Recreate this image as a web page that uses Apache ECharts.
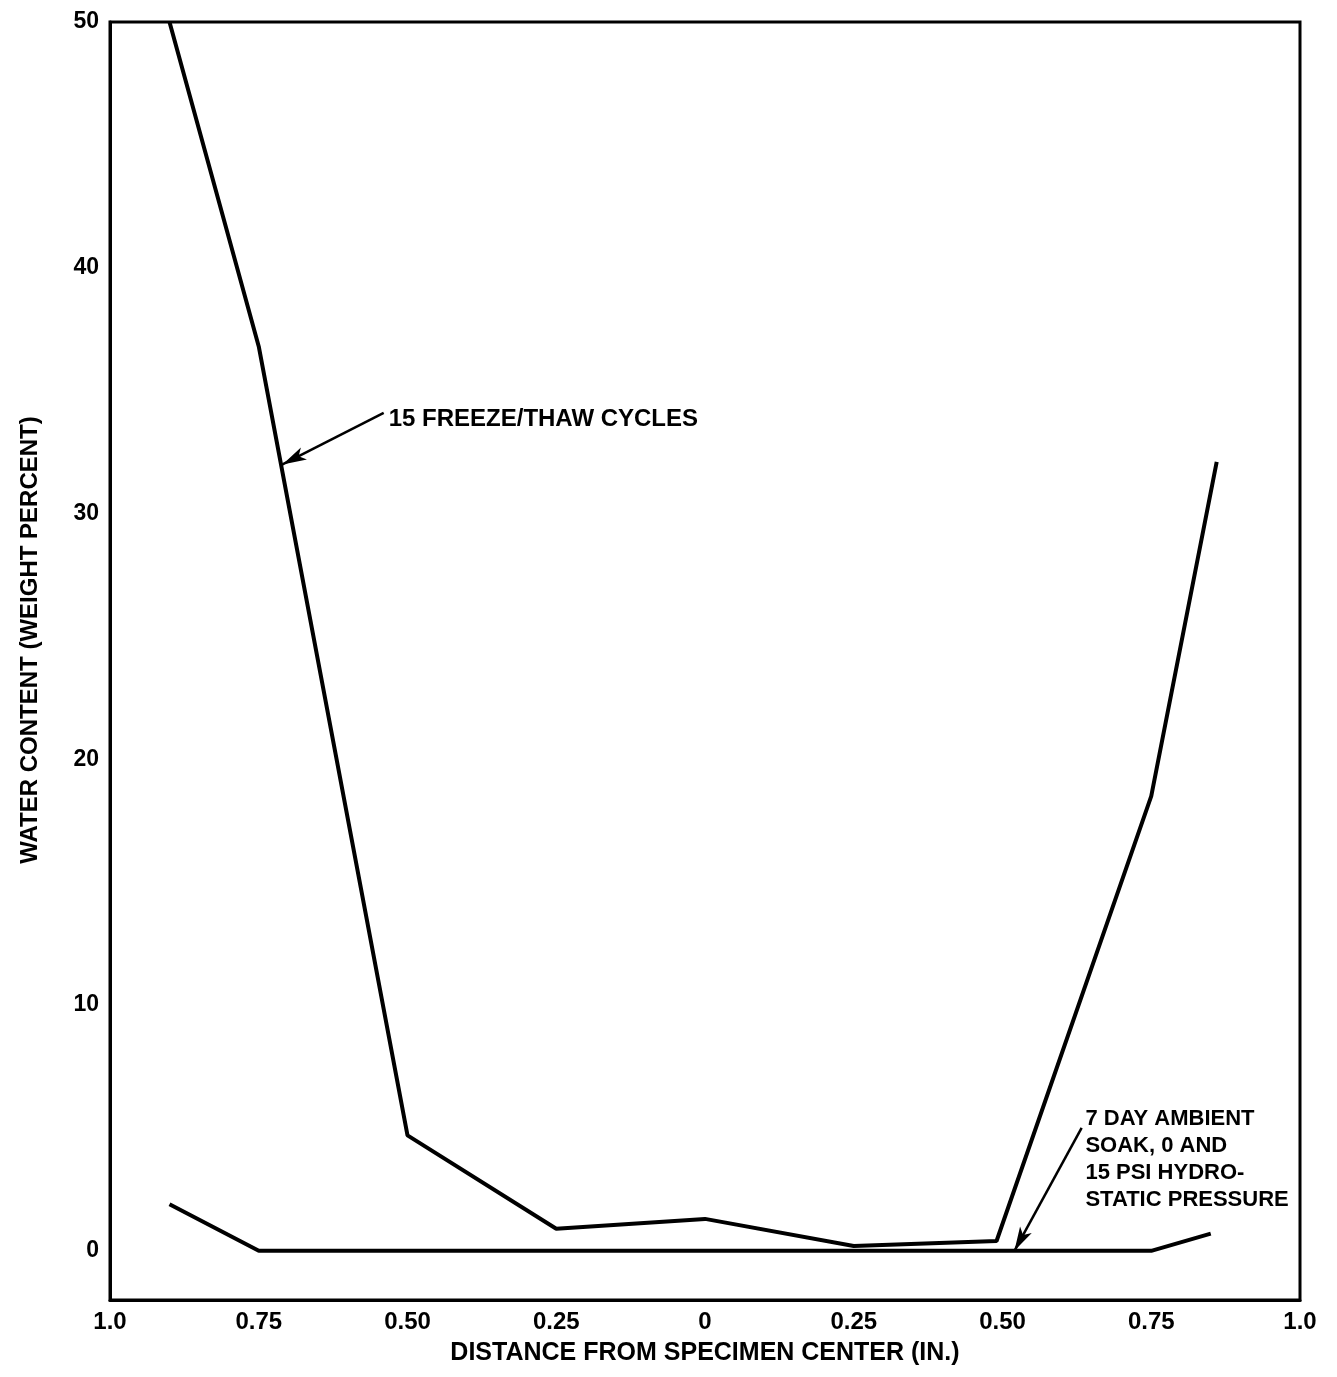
<!DOCTYPE html>
<html>
<head>
<meta charset="utf-8">
<script src="https://cdn.jsdelivr.net/npm/echarts@6/dist/echarts.min.js"></script>
<style>
  html, body { margin: 0; padding: 0; background: #fff; }
  #main { width: 1337px; height: 1377px; }
</style>
</head>
<body>
<div id="main"></div>
<script>
// distance from centre, left side negative (in.)
var xTickLabels = ['1.0', '0.75', '0.50', '0.25', '0', '0.25', '0.50', '0.75', '1.0'];
var yTicks = [0, 10, 20, 30, 40, 50];

// 15 freeze/thaw cycles
var freezeX = [-0.9, -0.75, -0.5, -0.25, 0, 0.25, 0.49, 0.75, 0.86];
var freezeY = [50, 36.8, 4.7, 0.9, 1.3, 0.2, 0.4, 18.5, 32.1];

// 7 day ambient soak
var soakX = [-0.9, -0.75, -0.5, -0.25, 0, 0.25, 0.5, 0.75, 0.85];
var soakY = [1.9, 0, 0, 0, 0, 0, 0, 0, 0.7];

// arrows [from, to] and labels
var freezeArrow = [[-0.54, 34.1], [-0.71, 32.0]];
var freezeTextAt = [-0.535, 33.85];
var freezeText = '15 FREEZE/THAW CYCLES';
var soakArrow = [[0.633, 5.0], [0.52, 0.0]];
var soakTextAt = [0.636, 5.93];
var soakText = '7 DAY AMBIENT\nSOAK, 0 AND\n15 PSI HYDRO-\nSTATIC PRESSURE';

function pairs(xs, ys) {
  return xs.map(function (x, i) { return [x, ys[i]]; });
}

var font = 'Liberation Sans';

var myChart = echarts.init(document.getElementById('main'));

option = {
  backgroundColor: '#ffffff',
  animation: false,
  grid: {
    left: 110,
    right: 37,
    top: 22,
    bottom: 77,
    show: true,
    borderColor: '#000',
    borderWidth: 3
  },
  xAxis: {
    type: 'value',
    min: -1,
    max: 1,
    interval: 0.25,
    name: 'DISTANCE FROM SPECIMEN CENTER (IN.)',
    nameLocation: 'middle',
    nameGap: 41,
    nameTextStyle: { fontFamily: font, fontWeight: 'bold', fontSize: 25, color: '#000' },
    axisLine: { onZero: false, lineStyle: { color: '#000', width: 3 } },
    axisTick: { show: false },
    splitLine: { show: false },
    axisLabel: {
      margin: 10,
      fontFamily: font, fontWeight: 'bold', fontSize: 24, color: '#000',
      formatter: function (v) {
        return xTickLabels[Math.round((v + 1) / 0.25)];
      }
    }
  },
  yAxis: {
    type: 'value',
    min: -2,
    max: 50,
    name: 'WATER CONTENT (WEIGHT PERCENT)',
    nameLocation: 'middle',
    nameGap: 68,
    nameTextStyle: {
      fontFamily: font, fontWeight: 'bold', fontSize: 24, color: '#000',
      padding: [0, 0, 0, 42]   // nudge up a little, the original sits above centre
    },
    axisLine: { onZero: false, lineStyle: { color: '#000', width: 3 } },
    axisTick: { show: false },
    splitLine: { show: false },
    axisLabel: {
      margin: 11,
      customValues: yTicks,
      fontFamily: font, fontWeight: 'bold', fontSize: 23, color: '#000'
    }
  },
  series: [
    {
      name: '15 FREEZE/THAW CYCLES',
      type: 'line',
      data: pairs(freezeX, freezeY),
      symbol: 'none',
      lineStyle: { color: '#000', width: 4 },
      markLine: {
        silent: true,
        symbol: ['none', 'arrow'],
        symbolSize: [10, 24],
        lineStyle: { color: '#000', width: 2.5, type: 'solid' },
        label: { show: false },
        data: [[{ coord: freezeArrow[0] }, { coord: freezeArrow[1] }]]
      },
      markPoint: {
        silent: true,
        symbol: 'circle',
        symbolSize: 0,
        data: [{ coord: freezeTextAt }],
        label: {
          show: true,
          position: 'right',
          distance: 2,
          formatter: freezeText,
          fontFamily: font, fontWeight: 'bold', fontSize: 24, color: '#000'
        }
      }
    },
    {
      name: '7 DAY AMBIENT SOAK',
      type: 'line',
      data: pairs(soakX, soakY),
      symbol: 'none',
      lineStyle: { color: '#000', width: 4 },
      markLine: {
        silent: true,
        symbol: ['none', 'arrow'],
        symbolSize: [10, 24],
        lineStyle: { color: '#000', width: 2.5, type: 'solid' },
        label: { show: false },
        data: [[{ coord: soakArrow[0] }, { coord: soakArrow[1] }]]
      },
      markPoint: {
        silent: true,
        symbol: 'circle',
        symbolSize: 0,
        data: [{ coord: soakTextAt }],
        label: {
          show: true,
          position: 'right',
          distance: 2,
          align: 'left',
          verticalAlign: 'top',
          lineHeight: 27,
          formatter: soakText,
          fontFamily: font, fontWeight: 'bold', fontSize: 22, color: '#000'
        }
      }
    }
  ]
};

myChart.setOption(option, true);
</script>
</body>
</html>
